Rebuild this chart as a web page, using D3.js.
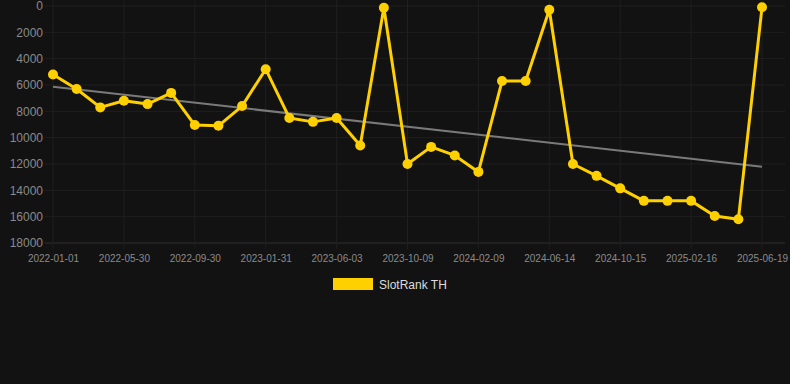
<!DOCTYPE html>
<html>
<head>
<meta charset="utf-8">
<script src="https://cdn.jsdelivr.net/npm/d3@7"></script>
<style>
  html, body { margin: 0; padding: 0; background: #121212; }
  svg { display: block; font-family: "Liberation Sans", Arial, sans-serif; }
</style>
</head>
<body>
<div class="chart"></div>
<script>
// dates of each sample (labelled ones, others estimated)
var dates = ["2022-01-01", "2022-02-19", "2022-04-09", "2022-05-30", "2022-07-10", "2022-08-20",
  "2022-09-30", "2022-11-10", "2022-12-21", "2023-01-31", "2023-03-13", "2023-04-23",
  "2023-06-03", "2023-07-16", "2023-08-27", "2023-10-09", "2023-11-19", "2023-12-30",
  "2024-02-09", "2024-03-21", "2024-05-03", "2024-06-14", "2024-07-25", "2024-09-04",
  "2024-10-15", "2024-11-25", "2025-01-06", "2025-02-16", "2025-03-29", "2025-05-09",
  "2025-06-19"];

var rank = [5200, 6300, 7700, 7200, 7450, 6600, 9040, 9100, 7600, 4800,
  8500, 8800, 8500, 10600, 130, 12000, 10700, 11350, 12600, 5700,
  5700, 280, 12000, 12900, 13850, 14800, 14800, 14800, 15950, 16200, 100];

var trend = [6130, 12200]; // trend line start / end value

var yTicks = [0, 2000, 4000, 6000, 8000, 10000, 12000, 14000, 16000, 18000];
var seriesName = "SlotRank TH";
var lineColor = "#ffd000";

var width = 790, height = 384;
var margin = {top: 6, right: 28, bottom: 141, left: 53};

var svg = d3.select(".chart").append("svg")
    .attr("width", width)
    .attr("height", height);

var x = d3.scalePoint()
    .domain(dates)
    .range([margin.left, width - margin.right]);

var y = d3.scaleLinear()
    .domain([0, 18000])
    .range([margin.top, height - margin.bottom]);

var labelDates = dates.filter(function(d, i) { return i % 3 == 0; });

// grid
var grid = svg.append("g");
grid.selectAll(".hgrid")
    .data(yTicks)
    .enter().append("line")
    .attr("x1", margin.left - 8)
    .attr("x2", width - 5)
    .attr("y1", function(d) { return y(d); })
    .attr("y2", function(d) { return y(d); })
    .attr("stroke", function(d) { return d == 18000 ? "#2e2e2e" : "#1f1f1f"; })
    .attr("stroke-width", 1);

grid.selectAll(".vgrid")
    .data(labelDates)
    .enter().append("line")
    .attr("x1", function(d) { return x(d); })
    .attr("x2", function(d) { return x(d); })
    .attr("y1", margin.top - 6)
    .attr("y2", y(18000) + 6)
    .attr("stroke", "#1f1f1f")
    .attr("stroke-width", 1);

// y axis
var yAxis = svg.append("g")
    .attr("transform", "translate(" + (margin.left - 10) + ",0)")
    .call(d3.axisLeft(y).tickValues(yTicks).tickSize(0).tickPadding(0).tickFormat(d3.format("d")));
yAxis.select(".domain").remove();
yAxis.selectAll("text")
    .attr("fill", "#8a8a8a")
    .style("font-size", "12px");

// x axis
var xAxis = svg.append("g")
    .attr("transform", "translate(0," + y(18000) + ")")
    .call(d3.axisBottom(x).tickValues(labelDates).tickSize(0).tickPadding(12));
xAxis.select(".domain").remove();
xAxis.selectAll("text")
    .attr("fill", "#8a8a8a")
    .style("font-size", "10px");

// trend line
svg.append("line")
    .attr("x1", x(dates[0]))
    .attr("x2", x(dates[dates.length - 1]))
    .attr("y1", y(trend[0]))
    .attr("y2", y(trend[1]))
    .attr("stroke", "#7a7a7a")
    .attr("stroke-width", 2);

// series
var line = d3.line()
    .x(function(d, i) { return x(dates[i]); })
    .y(function(d) { return y(d); });

svg.append("path")
    .datum(rank)
    .attr("d", line)
    .attr("fill", "none")
    .attr("stroke", lineColor)
    .attr("stroke-width", 3)
    .attr("stroke-linejoin", "round");

svg.selectAll(".dot")
    .data(rank)
    .enter().append("circle")
    .attr("class", "dot")
    .attr("cx", function(d, i) { return x(dates[i]); })
    .attr("cy", function(d) { return y(d); })
    .attr("r", 5)
    .attr("fill", lineColor);

// legend
var legend = svg.append("g").attr("transform", "translate(333,278)");
legend.append("rect")
    .attr("width", 40)
    .attr("height", 12)
    .attr("fill", lineColor);
legend.append("text")
    .attr("x", 46)
    .attr("y", 10.5)
    .attr("fill", "#dddddd")
    .style("font-size", "12px")
    .text(seriesName);
</script>
</body>
</html>
